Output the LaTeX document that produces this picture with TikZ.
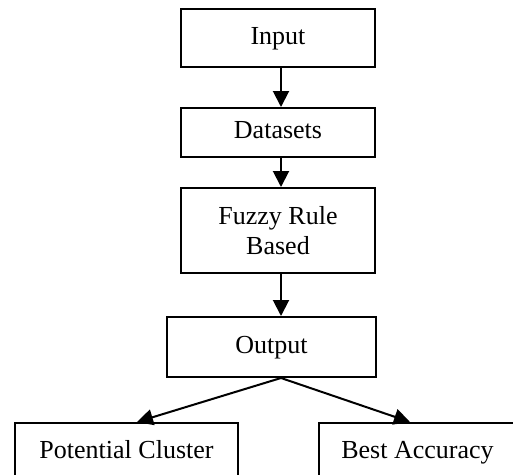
\documentclass[tikz,border=0pt]{standalone}
\usepackage{fontspec}
\setmainfont{Liberation Serif}
\usetikzlibrary{arrows.meta,calc}
\begin{document}
\begin{tikzpicture}[x=1pt,y=-1pt,
  plainbox/.style={draw,line width=2pt,inner sep=0pt,align=center,
    font=\fontsize{26}{30}\selectfont},
  box/.style={plainbox,text height=18pt,text depth=6pt},
  arr/.style={line width=2pt,-{Triangle[width=16pt,length=16pt]}}]
\useasboundingbox (0,0) rectangle (513,474);
\clip (0,0) rectangle (513,474);
\node[box,minimum width=194pt,minimum height=58pt] (in) at (278,38) {Input};
\node[box,minimum width=194pt,minimum height=49pt] (ds) at (278,132.5) {Datasets};
\node[plainbox,minimum width=194pt,minimum height=85pt] (fz) at (278,230.5) {Fuzzy Rule\\Based};
\node[box,minimum width=209pt,minimum height=60pt] (out) at (271.5,347) {Output};
\node[box,anchor=north,minimum width=223pt,inner ysep=17pt] (pc) at (126.5,422) {Potential Cluster};
\node[box,anchor=north,minimum width=197pt,inner ysep=17pt] (ba) at (417.5,422) {Best Accuracy};
\draw[arr] ($(in.south)+(3,0)$) -- ($(ds.north)+(3,0)$);
\draw[arr] ($(ds.south)+(3,0)$) -- ($(fz.north)+(3,0)$);
\draw[arr] ($(fz.south)+(3,0)$) -- ($(out.north)+(9.5,0)$);
\draw[arr] ($(out.south)+(9.5,0)$) -- ($(pc.north)+(10.5,0)$);
\draw[arr] ($(out.south)+(9.5,0)$) -- ($(ba.north)+(-7.5,0)$);
\end{tikzpicture}
\end{document}
